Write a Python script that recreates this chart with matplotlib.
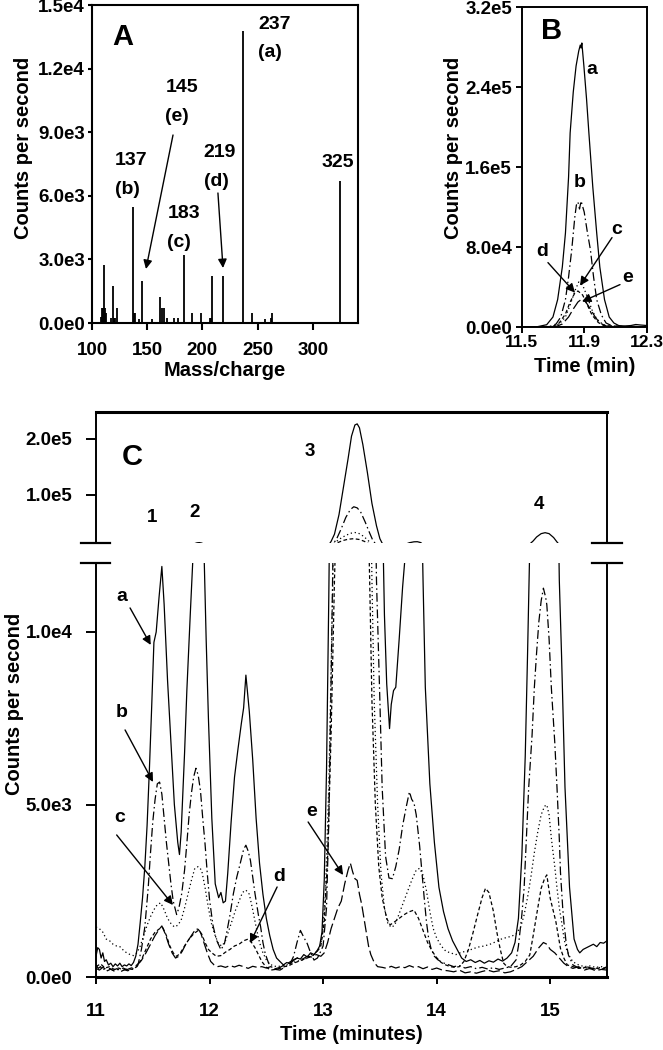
import matplotlib
matplotlib.use('Agg')
import matplotlib.pyplot as plt

plt.rcParams['font.family'] = ['Liberation Sans', 'DejaVu Sans']
plt.rcParams['font.weight'] = 'bold'
plt.rcParams['axes.labelweight'] = 'bold'

# ---------------- Panel A : mass spectrum ----------------
mz = [108, 109, 110, 111, 112, 113, 117, 119, 120, 121, 123, 137, 138, 139, 143, 145,
      154, 162, 163, 165, 168, 174, 178, 183, 191, 199, 207, 208, 209, 219, 237, 245,
      257, 262, 263, 325]
counts = [300, 700, 700, 2720, 700, 470, 230, 1730, 250, 250, 700, 5470, 470, 470, 200, 1965,
          200, 1210, 700, 700, 230, 230, 230, 3220, 470, 470, 250, 250, 2230, 2230, 13760, 470,
          200, 230, 470, 6710]
A_yticks = [0, 3000, 6000, 9000, 12000, 15000]
A_yticklabels = ['0.0e0', '3.0e3', '6.0e3', '9.0e3', '1.2e4', '1.5e4']
A_xticks = [100, 150, 200, 250, 300]

# ---------------- Panel B : peak at 11.9 min ----------------
B_a_t = [11.50, 11.60, 11.66, 11.70, 11.73, 11.76, 11.78, 11.80, 11.81, 11.83, 11.848, 11.865,
         11.875, 11.88, 11.885, 11.898, 11.915, 11.93, 11.955, 11.98, 12.00, 12.03, 12.06,
         12.09, 12.12, 12.15, 12.20, 12.23, 12.26, 12.30]
B_a_v = [0, 300, 2300, 10000, 27400, 60000, 94000, 150000, 194000, 235000, 261000, 276000,
         282000, 279000, 284000, 261000, 228000, 194000, 140000, 94000, 60000, 27400, 10000,
         4000, 1500, 800, 1500, 2500, 2000, 1500]
B_b_t = [11.50, 11.68, 11.72, 11.75, 11.78, 11.80, 11.82, 11.84, 11.85, 11.86, 11.87, 11.88,
         11.90, 11.92, 11.94, 11.96, 11.98, 12.01, 12.04, 12.08, 12.15, 12.30]
B_b_v = [0, 500, 3000, 10000, 27400, 50000, 77000, 110000, 122000, 125000, 118000, 126000,
         115000, 95000, 77000, 50000, 27400, 12000, 4000, 1000, 300, 200]
B_c_t = [11.50, 11.70, 11.74, 11.78, 11.81, 11.84, 11.865, 11.89, 11.92, 11.95, 11.98, 12.02,
         12.06, 12.30]
B_c_v = [0, 500, 3000, 10000, 22000, 36000, 45000, 42000, 30000, 17000, 8000, 2500, 500, 200]
B_d_t = [11.50, 11.70, 11.74, 11.78, 11.81, 11.84, 11.86, 11.89, 11.92, 11.95, 11.99, 12.03,
         12.30]
B_d_v = [0, 500, 4000, 13000, 25000, 34000, 36000, 32000, 22000, 12000, 4500, 1000, 300]
B_e_t = [11.50, 11.72, 11.76, 11.80, 11.83, 11.86, 11.885, 11.91, 11.94, 11.97, 12.00, 12.04,
         12.30]
B_e_v = [0, 500, 3000, 10000, 18000, 25000, 28000, 25000, 18000, 10000, 4000, 1000, 300]
B_yticks = [0, 80000, 160000, 240000, 320000]
B_yticklabels = ['0.0e0', '8.0e4', '1.6e5', '2.4e5', '3.2e5']
B_xticks = [11.5, 11.9, 12.3]
B_xticklabels = ['11.5', '11.9', '12.3']

# ---------------- Panel C : chromatogram ----------------
C_a_t = [11.00, 11.015, 11.03, 11.045, 11.06, 11.075, 11.09, 11.11, 11.13, 11.15, 11.17, 11.19,
         11.21, 11.23, 11.25, 11.27, 11.29, 11.31, 11.33, 11.35, 11.37, 11.39, 11.41, 11.43,
         11.45, 11.47, 11.49, 11.51, 11.53, 11.555, 11.58, 11.60, 11.63, 11.66, 11.69, 11.72,
         11.735, 11.75, 11.78, 11.80, 11.83, 11.86, 11.89, 11.91, 11.93, 11.95, 11.97, 11.99,
         12.02, 12.05, 12.08, 12.10, 12.12, 12.14, 12.16, 12.19, 12.22, 12.25, 12.28, 12.30,
         12.32, 12.35, 12.38, 12.41, 12.44, 12.47, 12.50, 12.53, 12.56, 12.59, 12.62, 12.65,
         12.68, 12.71, 12.74, 12.77, 12.80, 12.83, 12.86, 12.89, 12.92, 12.95, 12.97, 12.99,
         13.01, 13.03, 13.05, 13.07, 13.10, 13.14, 13.18, 13.22, 13.25, 13.28, 13.30, 13.32,
         13.35, 13.39, 13.43, 13.47, 13.50, 13.52, 13.54, 13.56, 13.585, 13.60, 13.62, 13.64,
         13.67, 13.70, 13.73, 13.76, 13.80, 13.83, 13.86, 13.88, 13.90, 13.94, 13.98, 14.02,
         14.06, 14.10, 14.14, 14.18, 14.22, 14.26, 14.30, 14.34, 14.38, 14.42, 14.46, 14.50,
         14.54, 14.58, 14.62, 14.66, 14.69, 14.72, 14.75, 14.78, 14.80, 14.82, 14.85, 14.88,
         14.92, 14.955, 14.99, 15.03, 15.06, 15.08, 15.10, 15.13, 15.17, 15.21, 15.24, 15.26,
         15.29, 15.32, 15.35, 15.38, 15.41, 15.44, 15.47, 15.50]
C_a_v = [600, 850, 800, 550, 700, 450, 500, 350, 400, 300, 380, 320,
         400, 300, 350, 320, 380, 330, 420, 600, 950, 1600, 2300, 3200,
         4400, 6000, 7800, 9700, 10000, 11000, 11900, 10800, 8600, 6800, 5000, 3900,
         3550, 4200, 6500, 8300, 10500, 12600, 14600, 15000, 14200, 12500, 9800, 7500,
         4600, 2700, 2300, 2450, 2150, 2200, 3000, 4500, 5800, 6600, 7350, 7800,
         8750, 7700, 6300, 4600, 3300, 2400, 1700, 1200, 800, 550, 450, 350,
         420, 380, 480, 550, 520, 650, 580, 700, 650, 780, 900, 1300,
         2800, 6000, 11000, 17000, 30000, 65000, 115000, 165000, 205000, 225000, 227000, 220000,
         190000, 140000, 85000, 45000, 22000, 14000, 10500, 8500, 7200, 7900, 8300, 8400,
         9800, 11300, 12500, 14800, 16400, 16600, 15000, 11500, 8400, 5600, 3900, 2600,
         1900, 1400, 1050, 800, 550, 450, 500, 420, 480, 400, 470, 430,
         520, 460, 550, 700, 1000, 1700, 3500, 6400, 9300, 12500, 18000, 25000,
         31000, 32700, 31000, 24000, 16000, 11500, 9300, 5500, 2600, 1100, 800, 700,
         800, 850, 900, 950, 880, 1000, 980, 1050]

C_b_t = [11.00, 11.02, 11.04, 11.06, 11.08, 11.10, 11.13, 11.16, 11.19, 11.22, 11.25, 11.28,
         11.31, 11.34, 11.37, 11.40, 11.43, 11.46, 11.48, 11.50, 11.52, 11.54, 11.56, 11.58,
         11.60, 11.62, 11.64, 11.66, 11.68, 11.71, 11.73, 11.755, 11.78, 11.80, 11.82, 11.84,
         11.86, 11.88, 11.90, 11.92, 11.94, 11.96, 11.98, 12.00, 12.03, 12.06, 12.10, 12.13,
         12.15, 12.18, 12.21, 12.24, 12.27, 12.30, 12.32, 12.34, 12.36, 12.38, 12.40, 12.43,
         12.45, 12.47, 12.49, 12.52, 12.55, 12.58, 12.62, 12.65, 12.68, 12.71, 12.74, 12.77,
         12.80, 12.83, 12.86, 12.89, 12.92, 12.95, 12.97, 13.00, 13.03, 13.05, 13.07, 13.09,
         13.12, 13.16, 13.20, 13.24, 13.27, 13.30, 13.33, 13.37, 13.41, 13.44, 13.47, 13.50,
         13.52, 13.55, 13.58, 13.61, 13.64, 13.67, 13.70, 13.73, 13.76, 13.78, 13.80, 13.82,
         13.85, 13.87, 13.89, 13.91, 13.93, 13.95, 13.98, 14.01, 14.05, 14.10, 14.15, 14.20,
         14.25, 14.30, 14.35, 14.40, 14.45, 14.50, 14.55, 14.60, 14.65, 14.70, 14.72, 14.75,
         14.77, 14.79, 14.81, 14.84, 14.86, 14.88, 14.90, 14.92, 14.94, 14.96, 14.97, 14.99,
         15.01, 15.04, 15.06, 15.08, 15.09, 15.11, 15.12, 15.14, 15.16, 15.20, 15.24, 15.28,
         15.32, 15.36, 15.40, 15.44, 15.48, 15.50]
C_b_v = [350, 250, 300, 200, 250, 180, 230, 170, 220, 160, 210, 180,
         230, 250, 350, 800, 1450, 2600, 3600, 4500, 5140, 5600, 5650, 5300,
         4600, 3900, 3300, 2700, 2200, 1810, 2000, 2420, 3100, 3870, 4700, 5320,
         5800, 6050, 5850, 5400, 4600, 3870, 3000, 2240, 1500, 1080, 790, 950,
         1270, 1800, 2420, 2900, 3290, 3700, 3820, 3650, 3380, 2900, 2420, 1800,
         1450, 1000, 680, 400, 280, 220, 200, 260, 320, 390, 600, 1000,
         1350, 1150, 970, 700, 490, 550, 680, 900, 2000, 4500, 8500, 13000,
         22000, 40000, 60000, 74000, 79000, 77000, 70000, 52000, 32000, 18000, 11500, 8000,
         5500, 3500, 2870, 2850, 3200, 3700, 4380, 4900, 5370, 5150, 5050, 4700,
         3800, 3050, 2300, 1600, 1100, 830, 600, 500, 420, 360, 300, 330,
         260, 300, 240, 280, 230, 270, 220, 260, 300, 500, 900, 1800,
         2570, 4000, 5470, 7000, 8380, 9400, 10300, 10900, 11270, 11000, 10790, 9800,
         8380, 6800, 5470, 4000, 3050, 2000, 1600, 1000, 640, 350, 280, 240,
         300, 260, 230, 280, 250, 300]

C_c_t = [11.00, 11.03, 11.06, 11.09, 11.12, 11.15, 11.18, 11.21, 11.24, 11.27, 11.30, 11.33,
         11.36, 11.39, 11.42, 11.45, 11.48, 11.51, 11.54, 11.57, 11.60, 11.63, 11.66, 11.69,
         11.72, 11.75, 11.78, 11.81, 11.84, 11.87, 11.90, 11.93, 11.96, 11.99, 12.02, 12.05,
         12.08, 12.11, 12.14, 12.17, 12.20, 12.23, 12.26, 12.29, 12.32, 12.35, 12.38, 12.41,
         12.44, 12.47, 12.50, 12.53, 12.56, 12.60, 12.64, 12.68, 12.72, 12.76, 12.80, 12.84,
         12.88, 12.92, 12.96, 12.99, 13.02, 13.05, 13.08, 13.11, 13.15, 13.20, 13.25, 13.28,
         13.31, 13.35, 13.38, 13.41, 13.43, 13.45, 13.48, 13.51, 13.54, 13.57, 13.60, 13.63,
         13.66, 13.70, 13.74, 13.78, 13.82, 13.85, 13.88, 13.91, 13.94, 13.97, 14.00, 14.04,
         14.08, 14.12, 14.17, 14.22, 14.27, 14.32, 14.37, 14.42, 14.47, 14.52, 14.57, 14.62,
         14.66, 14.70, 14.74, 14.77, 14.80, 14.83, 14.86, 14.89, 14.92, 14.95, 14.97, 14.99,
         15.01, 15.04, 15.06, 15.08, 15.10, 15.12, 15.14, 15.17, 15.20, 15.25, 15.30, 15.35,
         15.40, 15.45, 15.50]
C_c_v = [1450, 1400, 1300, 1100, 1050, 950, 900, 880, 780, 700, 650, 620,
         700, 900, 1200, 1500, 1750, 1950, 2100, 2150, 1950, 1700, 1550, 1450,
         1500, 1650, 2000, 2400, 2800, 3150, 3200, 3100, 2600, 2000, 1500, 1200,
         950, 900, 1050, 1350, 1650, 1950, 2200, 2450, 2520, 2400, 1950, 1450,
         1000, 700, 500, 380, 320, 300, 330, 350, 400, 450, 480, 520,
         580, 650, 800, 1100, 2400, 5500, 10500, 16000, 22000, 28000, 32000, 33000,
         32000, 27000, 22000, 16000, 11500, 8000, 5000, 3000, 2000, 1550, 1440, 1500,
         1750, 2100, 2450, 2800, 3100, 3150, 2950, 2500, 1900, 1400, 1130, 900,
         750, 700, 650, 720, 750, 820, 870, 900, 950, 1020, 1100, 1150,
         1180, 1250, 1450, 1800, 2300, 2900, 3600, 4200, 4700, 4950, 4990, 4700,
         4020, 3200, 2570, 2000, 1600, 1150, 830, 600, 440, 350, 300, 320,
         280, 300, 270]

C_d_t = [11.00, 11.04, 11.08, 11.12, 11.16, 11.20, 11.24, 11.28, 11.32, 11.36, 11.40, 11.44,
         11.48, 11.52, 11.56, 11.59, 11.62, 11.65, 11.68, 11.71, 11.74, 11.78, 11.82, 11.86,
         11.90, 11.93, 11.96, 11.99, 12.02, 12.06, 12.10, 12.14, 12.18, 12.22, 12.26, 12.30,
         12.34, 12.37, 12.40, 12.43, 12.46, 12.50, 12.54, 12.58, 12.62, 12.66, 12.70, 12.74,
         12.78, 12.82, 12.86, 12.90, 12.94, 12.98, 13.01, 13.04, 13.07, 13.10, 13.13, 13.17,
         13.22, 13.27, 13.32, 13.36, 13.39, 13.41, 13.43, 13.46, 13.49, 13.52, 13.56, 13.59,
         13.63, 13.67, 13.71, 13.75, 13.80, 13.84, 13.88, 13.92, 13.96, 14.00, 14.04, 14.08,
         14.12, 14.16, 14.20, 14.24, 14.28, 14.32, 14.36, 14.40, 14.43, 14.46, 14.50, 14.53,
         14.56, 14.59, 14.62, 14.66, 14.70, 14.74, 14.78, 14.82, 14.85, 14.88, 14.92, 14.95,
         14.97, 15.00, 15.05, 15.09, 15.12, 15.15, 15.20, 15.25, 15.30, 15.35, 15.40, 15.45,
         15.50]
C_d_v = [300, 380, 260, 300, 220, 260, 200, 240, 220, 300, 500, 800,
         1100, 1300, 1400, 1420, 1200, 900, 700, 600, 680, 900, 1100, 1250,
         1350, 1250, 1000, 800, 700, 600, 620, 720, 800, 900, 950, 1050,
         1100, 1000, 850, 650, 450, 280, 200, 220, 250, 300, 330, 400,
         450, 500, 550, 600, 700, 900, 1600, 3500, 7000, 11500, 15000, 18500,
         21000, 22000, 20500, 17500, 14500, 11500, 8000, 5000, 3200, 2300, 1700, 1510,
         1600, 1700, 1800, 1880, 1940, 1700, 1350, 1000, 750, 560, 420, 350,
         300, 280, 300, 450, 800, 1280, 1800, 2300, 2570, 2450, 1900, 1300,
         800, 400, 300, 280, 300, 350, 450, 640, 1200, 1800, 2570, 2850,
         2960, 2280, 1600, 830, 550, 350, 300, 250, 280, 240, 260, 220,
         300]

C_e_t = [11.00, 11.03, 11.06, 11.09, 11.12, 11.15, 11.18, 11.21, 11.24, 11.27, 11.30, 11.33,
         11.36, 11.40, 11.44, 11.48, 11.52, 11.55, 11.58, 11.61, 11.64, 11.67, 11.70, 11.73,
         11.76, 11.79, 11.82, 11.85, 11.88, 11.90, 11.92, 11.95, 11.98, 12.01, 12.04, 12.07,
         12.10, 12.14, 12.18, 12.22, 12.26, 12.30, 12.34, 12.38, 12.42, 12.46, 12.50, 12.54,
         12.58, 12.62, 12.66, 12.70, 12.74, 12.78, 12.82, 12.86, 12.90, 12.94, 12.98, 13.01,
         13.04, 13.07, 13.10, 13.13, 13.16, 13.19, 13.22, 13.24, 13.26, 13.28, 13.30, 13.32,
         13.34, 13.36, 13.38, 13.40, 13.42, 13.45, 13.48, 13.52, 13.56, 13.60, 13.64, 13.68,
         13.72, 13.76, 13.80, 13.84, 13.88, 13.92, 13.96, 14.00, 14.05, 14.10, 14.15, 14.20,
         14.25, 14.30, 14.35, 14.40, 14.45, 14.50, 14.55, 14.60, 14.65, 14.70, 14.75, 14.80,
         14.85, 14.90, 14.94, 14.97, 15.00, 15.04, 15.08, 15.12, 15.16, 15.20, 15.25, 15.30,
         15.35, 15.40, 15.45, 15.50]
C_e_v = [250, 200, 280, 220, 250, 190, 240, 200, 260, 210, 250, 280,
         350, 480, 700, 950, 1200, 1350, 1480, 1250, 950, 700, 550, 600,
         750, 950, 1100, 1250, 1400, 1380, 1300, 1000, 700, 450, 350, 300,
         320, 280, 330, 290, 340, 300, 250, 310, 280, 300, 260, 300,
         240, 280, 350, 420, 500, 560, 520, 600, 580, 650, 600, 700,
         1000, 1400, 1700, 2000, 2200, 2700, 3100, 3300, 3050, 2850, 2800, 2400,
         2100, 1700, 1300, 900, 650, 420, 300, 280, 250, 310, 260, 300,
         270, 330, 280, 300, 240, 290, 220, 260, 200, 180, 150, 200,
         120, 150, 110, 160, 200, 150, 180, 120, 150, 220, 300, 450,
         600, 850, 1000, 950, 800, 700, 550, 400, 300, 250, 300, 200,
         250, 180, 220, 200]

C_xticks = [11, 12, 13, 14, 15]
C_low_yticks = [0, 5000, 10000]
C_low_yticklabels = ['0.0e0', '5.0e3', '1.0e4']
C_up_yticks = [100000, 200000]
C_up_yticklabels = ['1.0e5', '2.0e5']

# ---------------- styles ----------------
STY = {
    'a': dict(color='black', lw=0.9, ls='-'),
    'b': dict(color='black', lw=0.9, ls=(0, (7, 2.5, 1.2, 2.5))),
    'c': dict(color='black', lw=0.9, ls=(0, (1, 2.2))),
    'd': dict(color='black', lw=0.9, ls=(0, (3, 2))),
    'e': dict(color='black', lw=0.9, ls=(0, (9, 3))),
}
TICK_FS = 13.5
LAB_FS = 14.5
ANN_FS = 14
BIG_FS = 21
ARROW = dict(arrowstyle='-|>', color='black', lw=1.0, mutation_scale=13,
             shrinkA=0, shrinkB=0)

W, H = 663, 1050
fig = plt.figure(figsize=(W / 100, H / 100), dpi=100)


def box(l, t, r, b):
    return [l / W, 1 - b / H, (r - l) / W, (b - t) / H]


def style_axis(ax, lw=1.3):
    for s in ax.spines.values():
        s.set_linewidth(lw)
    ax.tick_params(direction='out', width=lw, labelsize=TICK_FS, colors='black')
    for lab in ax.get_xticklabels() + ax.get_yticklabels():
        lab.set_fontweight('bold')


# ---------- A ----------
axA = fig.add_axes(box(92, 5, 358, 323))
axA.vlines(mz, 0, counts, color='black', lw=1.3)
axA.set_xlim(100, 341)
axA.set_ylim(0, 15000)
axA.set_xticks(A_xticks)
axA.set_yticks(A_yticks)
axA.set_yticklabels(A_yticklabels)
style_axis(axA, 1.5)
axA.tick_params(axis='y', length=3, pad=2)
axA.tick_params(axis='x', length=5, pad=9)
axA.set_xlabel('Mass/charge', fontsize=LAB_FS, fontweight='bold')
axA.set_ylabel('Counts per second', fontsize=LAB_FS, fontweight='bold')
axA.xaxis.set_label_coords(0.5, -0.148)
axA.xaxis.label.set_va('center')
axA.yaxis.set_label_coords(-0.258, 0.55)
axA.yaxis.label.set_va('center')
axA.text(128, 13490, 'A', fontsize=BIG_FS, fontweight='bold', ha='center', va='center')
for txt, x, y in [('237', 265.8, 14060), ('(a)', 261.2, 12740),
                  ('145', 181.5, 11085), ('(e)', 177, 9717),
                  ('137', 135.3, 7642), ('(b)', 131.7, 6274),
                  ('183', 183.3, 5142), ('(c)', 178.8, 3774),
                  ('219', 215.9, 8019), ('(d)', 212.3, 6651),
                  ('325', 322.8, 7594)]:
    axA.text(x, y, txt, fontsize=ANN_FS, fontweight='bold', ha='center', va='center')
axA.annotate('', xy=(148.9, 2547), xytext=(173.4, 8868), arrowprops=ARROW)
axA.annotate('', xy=(218.7, 2594), xytext=(214.1, 6132), arrowprops=ARROW)

# ---------- B ----------
axB = fig.add_axes(box(521.7, 7, 646.7, 327))
for t, v, k in [(B_a_t, B_a_v, 'a'), (B_b_t, B_b_v, 'b'), (B_c_t, B_c_v, 'c'),
                (B_d_t, B_d_v, 'd'), (B_e_t, B_e_v, 'e')]:
    axB.plot(t, v, **STY[k])
axB.set_xlim(11.5, 12.3)
axB.set_ylim(0, 320000)
axB.set_xticks(B_xticks)
axB.set_xticklabels(B_xticklabels)
axB.set_yticks(B_yticks)
axB.set_yticklabels(B_yticklabels)
style_axis(axB, 1.4)
axB.tick_params(axis='y', length=4, pad=3)
axB.tick_params(axis='x', length=4, pad=2, labelsize=12.5)
axB.set_xlabel('Time (min)', fontsize=LAB_FS, fontweight='bold')
axB.set_ylabel('Counts per second', fontsize=LAB_FS, fontweight='bold')
axB.xaxis.set_label_coords(0.5, -0.125)
axB.xaxis.label.set_va('center')
axB.yaxis.set_label_coords(-0.545, 0.559)
axB.yaxis.label.set_va('center')
axB.text(11.692, 296200, 'B', fontsize=BIG_FS, fontweight='bold', ha='center', va='center')
for txt, x, y in [('a', 11.95, 257700), ('b', 11.873, 144500), ('c', 12.11, 97400),
                  ('d', 11.63, 75300), ('e', 12.18, 49400)]:
    axB.text(x, y, txt, fontsize=ANN_FS, fontweight='bold', ha='center', va='center')
axB.annotate('', xy=(11.873, 41400), xytext=(12.078, 89400), arrowprops=ARROW)
axB.annotate('', xy=(11.841, 34400), xytext=(11.668, 64400), arrowprops=ARROW)
axB.annotate('', xy=(11.886, 25400), xytext=(12.129, 42400), arrowprops=ARROW)

# ---------- C (broken axis) ----------
axU = fig.add_axes(box(96, 412, 607, 543))
axL = fig.add_axes(box(96, 563, 607, 977))
series = [(C_a_t, C_a_v, 'a'), (C_b_t, C_b_v, 'b'), (C_c_t, C_c_v, 'c'),
          (C_d_t, C_d_v, 'd'), (C_e_t, C_e_v, 'e')]
for ax in (axU, axL):
    for t, v, k in series:
        ax.plot(t, v, **STY[k])
    ax.set_xlim(11, 15.5)
axU.set_ylim(14286, 248200)
axL.set_ylim(0, 12000)

axU.spines['bottom'].set_visible(False)
axL.spines['top'].set_visible(False)
axU.set_xticks([])
axL.set_xticks(C_xticks)
axU.set_yticks(C_up_yticks)
axU.set_yticklabels(C_up_yticklabels)
axL.set_yticks(C_low_yticks)
axL.set_yticklabels(C_low_yticklabels)
style_axis(axU, 1.4)
style_axis(axL, 1.4)
axU.spines['top'].set_linewidth(2.2)
axL.spines['bottom'].set_linewidth(2.2)
axU.tick_params(axis='y', length=7, pad=10)
axL.tick_params(axis='y', length=7, pad=10)
axL.tick_params(axis='x', length=5, pad=14)

# break marks
for x0, x1 in [(-0.029, 0.027), (0.971, 1.029)]:
    axU.plot([x0, x1], [0, 0], transform=axU.transAxes, color='black', lw=1.6,
             clip_on=False)
    axL.plot([x0, x1], [1, 1], transform=axL.transAxes, color='black', lw=1.6,
             clip_on=False)

axL.set_xlabel('Time (minutes)', fontsize=LAB_FS, fontweight='bold')
axL.set_ylabel('Counts per second', fontsize=LAB_FS, fontweight='bold')
axL.xaxis.set_label_coords(0.5, -0.14)
axL.xaxis.label.set_va('center')
axL.yaxis.set_label_coords(-0.16, 0.66)
axL.yaxis.label.set_va('center')

axU.text(11.317, 167900, 'C', fontsize=BIG_FS, fontweight='bold', ha='center', va='center')
for txt, x, y in [('1', 11.493, 60700), ('2', 11.872, 69600), ('3', 12.885, 176800),
                  ('4', 14.903, 83900)]:
    axU.text(x, y, txt, fontsize=13.5, fontweight='bold', ha='center', va='center')

for txt, x, y in [('a', 11.229, 11016), ('b', 11.226, 7653), ('c', 11.211, 4609),
                  ('d', 12.612, 2899), ('e', 12.90, 4792)]:
    axL.text(x, y, txt, fontsize=ANN_FS, fontweight='bold', ha='center', va='center')
axL.annotate('', xy=(11.482, 9625), xytext=(11.30, 10697), arrowprops=ARROW)
axL.annotate('', xy=(11.502, 5653), xytext=(11.256, 7161), arrowprops=ARROW)
axL.annotate('', xy=(11.678, 2087), xytext=(11.182, 4117), arrowprops=ARROW)
axL.annotate('', xy=(12.357, 986), xytext=(12.595, 2609), arrowprops=ARROW)
axL.annotate('', xy=(13.176, 2957), xytext=(12.868, 4493), arrowprops=ARROW)

fig.savefig('out.png', dpi=100)
